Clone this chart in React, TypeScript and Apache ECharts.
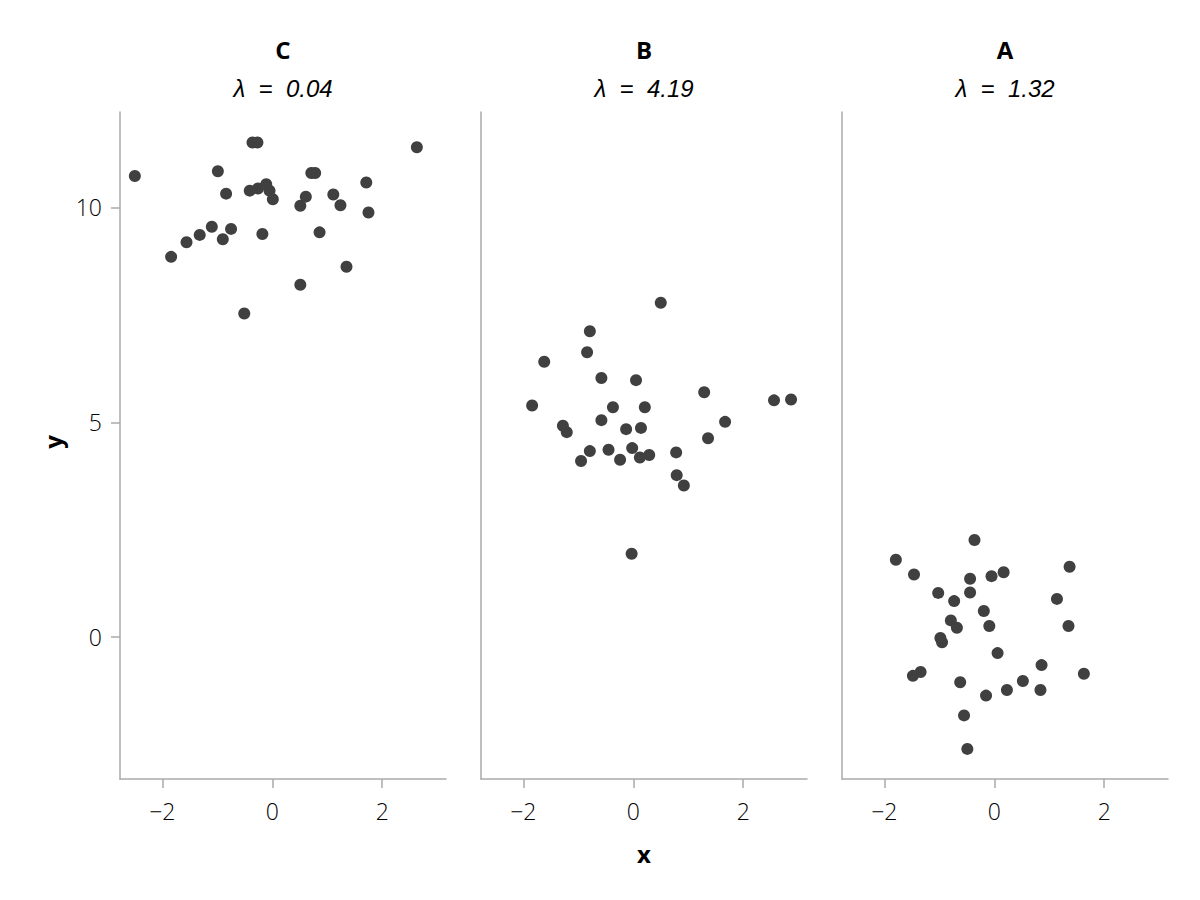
import React, { useEffect, useRef } from "react";
import * as echarts from "echarts";

const groups = ["C", "B", "A"];
const lambdas = ["0.04", "4.19", "1.32"];

const cX = [-2.5, -0.99, -0.36, -0.27, 2.63, -0.84, -0.41, -0.26, -0.11, -0.05, 0.01, 0.71, 0.78, 0.61, 0.51, 1.11, 1.24, 1.71, 1.75, -1.84, -1.56, -1.32, -1.1, -0.9, -0.75, -0.18, 0.86, 1.35, 0.51, -0.51];
const cY = [10.73, 10.84, 11.51, 11.51, 11.4, 10.32, 10.39, 10.44, 10.54, 10.39, 10.19, 10.8, 10.8, 10.25, 10.04, 10.3, 10.05, 10.58, 9.88, 8.85, 9.19, 9.36, 9.55, 9.26, 9.5, 9.38, 9.42, 8.62, 8.2, 7.53];

const bX = [0.5, -0.79, -0.84, -1.62, -0.58, 0.05, 1.29, 2.56, 2.87, -1.84, -0.37, 0.21, -0.58, 1.67, -1.28, -1.21, -0.13, 0.14, 1.36, -0.79, -0.45, -0.02, -0.95, -0.24, 0.12, 0.29, 0.78, 0.79, 0.92, -0.03];
const bY = [7.78, 7.12, 6.63, 6.41, 6.03, 5.98, 5.7, 5.51, 5.53, 5.39, 5.35, 5.35, 5.05, 5.01, 4.92, 4.77, 4.84, 4.87, 4.63, 4.33, 4.36, 4.4, 4.1, 4.13, 4.18, 4.24, 4.3, 3.77, 3.53, 1.94];

const aX = [-0.36, -1.79, -1.46, 1.37, -0.44, -0.05, 0.17, -1.02, -0.44, -0.73, 1.14, -0.19, -0.79, -0.68, -0.09, 1.35, -0.98, -0.95, 0.06, 0.86, -1.34, -1.48, 1.63, -0.62, 0.52, 0.23, 0.84, -0.15, -0.55, -0.49];
const aY = [2.26, 1.8, 1.46, 1.64, 1.36, 1.42, 1.51, 1.03, 1.04, 0.84, 0.89, 0.61, 0.39, 0.22, 0.26, 0.26, -0.02, -0.12, -0.37, -0.65, -0.81, -0.9, -0.85, -1.05, -1.02, -1.23, -1.23, -1.36, -1.82, -2.6];

const xTicks = [-2, 0, 2];
const yTicks = [0, 5, 10];
const xRange = [-2.77, 3.16];
const yRange = [-3.3, 12.22];

const panelX = [[cX, cY], [bX, bY], [aX, aY]];

const FONT = "'Open Sans', 'Noto Sans', sans-serif";
const LAMBDA_FONT = "'Liberation Sans', Arial, sans-serif";
const AXIS_COLOR = "#aaaaaa";
const POINT_COLOR = "#404040";

export default function App() {
  const ref = useRef<HTMLDivElement>(null);
  useEffect(() => {
    document.body.style.margin = "0";
    if (!ref.current) return;
    const chart = echarts.init(ref.current, undefined, { renderer: "svg" });
    const lefts = [120, 481, 842];
    const width = 326;
    const top = 112;
    const height = 667;
    const grids = lefts.map((l) => ({ left: l, top, width, height, containLabel: false }));
    const xAxes = lefts.map((_, i) => ({
      type: "value",
      gridIndex: i,
      min: xRange[0],
      max: xRange[1],
      axisLine: { show: true, onZero: false, lineStyle: { color: AXIS_COLOR, width: 1.5 } },
      axisTick: { show: true, customValues: xTicks, length: 9, lineStyle: { color: AXIS_COLOR, width: 1.5 } },
      axisLabel: {
        show: true,
        customValues: xTicks,
        margin: 20,
        fontFamily: FONT,
        fontWeight: 300,
        fontSize: 23,
        color: "#000",
        formatter: (v: number) => (v < 0 ? "\u2212" + Math.abs(v) : String(v)),
      },
      splitLine: { show: false },
    }));
    const yAxes = lefts.map((_, i) => ({
      type: "value",
      gridIndex: i,
      min: yRange[0],
      max: yRange[1],
      axisLine: { show: true, onZero: false, lineStyle: { color: AXIS_COLOR, width: 1.5 } },
      axisTick: { show: i === 0, customValues: yTicks, length: 9, lineStyle: { color: AXIS_COLOR, width: 1.5 } },
      axisLabel: {
        show: i === 0,
        customValues: yTicks,
        margin: 18,
        fontFamily: FONT,
        fontWeight: 300,
        fontSize: 23,
        color: "#000",
      },
      splitLine: { show: false },
    }));
    const series = panelX.map(([xs, ys], i) => ({
      type: "scatter",
      xAxisIndex: i,
      yAxisIndex: i,
      symbolSize: 12,
      itemStyle: { color: POINT_COLOR, opacity: 1 },
      data: xs.map((x, k) => [x, ys[k]]),
    }));
    const graphics: any[] = [];
    lefts.forEach((l, i) => {
      const cx = l + width / 2;
      graphics.push({
        type: "text",
        x: cx,
        y: 49,
        style: { text: groups[i], align: "center", verticalAlign: "middle", fontFamily: FONT, fontWeight: "bold", fontSize: 24, fill: "#000" },
      });
      graphics.push({
        type: "text",
        x: cx,
        y: 88,
        style: { text: "\u03bb  =  " + lambdas[i], align: "center", verticalAlign: "middle", fontFamily: LAMBDA_FONT, fontStyle: "italic", fontSize: 24, fill: "#000" },
      });
    });
    graphics.push({
      type: "text",
      x: 644,
      y: 853,
      style: { text: "x", align: "center", verticalAlign: "middle", fontFamily: FONT, fontWeight: "bold", fontSize: 24, fill: "#000" },
    });
    graphics.push({
      type: "text",
      x: 52,
      y: 442,
      rotation: Math.PI / 2,
      style: { text: "y", align: "center", verticalAlign: "middle", fontFamily: FONT, fontWeight: "bold", fontSize: 24, fill: "#000" },
    });
    chart.setOption({
      animation: false,
      backgroundColor: "#fff",
      grid: grids,
      xAxis: xAxes,
      yAxis: yAxes,
      series,
      graphic: graphics,
    });
    return () => chart.dispose();
  }, []);
  return <div ref={ref} style={{ width: 1200, height: 900 }} />;
}
